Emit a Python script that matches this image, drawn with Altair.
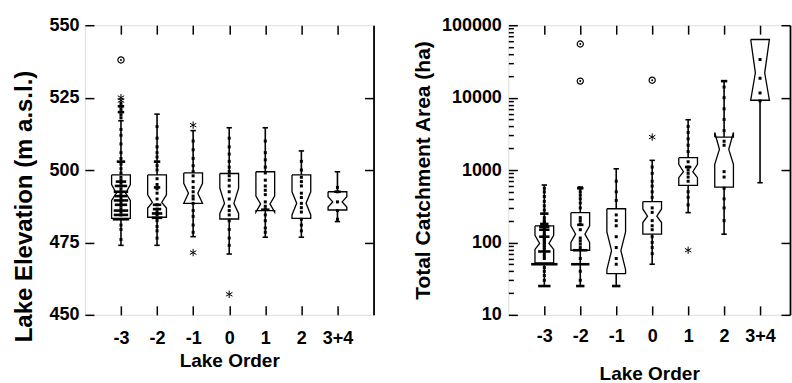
import json
import altair as alt
import pandas as pd

# ---------------- data ----------------
orders = ["-3", "-2", "-1", "0", "1", "2", "3+4"]

# Left panel: Lake elevation (m a.s.l.)
elev_q1 = [483.3, 483.7, 488.5, 483.1, 486.0, 483.3, 486.2]
elev_med = [492.0, 488.8, 492.0, 488.5, 488.3, 488.5, 489.0]
elev_q3 = [498.3, 498.3, 499.0, 498.8, 499.4, 498.3, 492.5]
elev_nlo = [489.5, 486.9, 488.5, 485.0, 485.5, 484.5, 487.2]
elev_nhi = [495.0, 491.4, 495.4, 493.7, 491.0, 492.5, 490.8]
elev_wlo = [474.0, 474.0, 477.0, 471.0, 476.8, 476.8, 482.2]
elev_whi = [517.0, 519.3, 513.6, 514.6, 514.6, 506.6, 499.4]
elev_points = {
    "-3": [476, 479.5, 481, 484.5, 485.5, 486.5, 487.5, 488.5, 489.5, 490.5, 491.5,
           492.5, 493.5, 494.5, 495.5, 496.5, 497.5, 499, 500.5, 502, 504, 506, 509,
           512, 514, 518, 519, 520, 521, 522, 523],
    "-2": [476.5, 479, 480.5, 482.5, 484.5, 485.5, 486.5, 488, 490, 492, 493.5, 495,
           497, 500, 501.5, 504.5, 506, 508, 511, 515],
    "-1": [478.5, 481, 484, 486, 488.5, 490, 491, 492.5, 494, 496, 498, 499.5, 501.5,
           504, 507, 510],
    "0": [474, 476.5, 479.5, 482.5, 484.5, 486, 487.5, 490, 492.5, 494.5, 496.5, 498,
          499.5, 501, 503, 505.5, 508, 511],
    "1": [478.5, 480, 482.5, 484.5, 486.5, 487.5, 489, 491.5, 493, 494.5, 496.5, 499,
          501, 503.5, 506, 510],
    "2": [479, 481, 483, 485.5, 487, 488.5, 490.5, 492, 494.5, 496, 497.5, 500, 503],
    "3+4": [483, 486, 489, 492.5, 494],
}
# values shared by several lakes (order, value, number of lakes)
elev_ties = [("-3", 483.0, 7), ("-3", 484.5, 6), ("-3", 486.0, 6), ("-3", 488.0, 5),
             ("-3", 489.5, 6), ("-3", 491.0, 5), ("-3", 492.5, 6), ("-3", 494.5, 5),
             ("-3", 496.0, 4), ("-3", 502.9, 3), ("-3", 520.0, 2), ("-3", 522.0, 2),
             ("-2", 502.9, 2), ("-2", 483.5, 4), ("-2", 485.0, 4), ("-2", 486.5, 3),
             ("-2", 488.0, 3), ("-2", 494.0, 2), ("1", 486.3, 3), ("3+4", 492.5, 2)]
elev_stars = [("-3", 524.0), ("-3", 525.0), ("-1", 515.5), ("-1", 471.5), ("0", 457.1)]
elev_circles = [("-3", 538.0)]

# Right panel: Total catchment area (ha)
area_q1 = [52, 78, 37, 130, 615, 580, 9200]
area_med = [97, 130, 77, 230, 950, 1930, 22000]
area_q3 = [169, 258, 292, 365, 1480, 2850, 63500]
area_nlo = [80, 100, 42, 188, 783, 1200, 9200]
area_nhi = [125, 170, 140, 290, 1200, 3300, 63500]
area_wlo = [25, 25, 25, 50, 258, 130, 668]
area_whi = [621, 583, 1040, 1360, 4950, 16900, 63500]
area_points = {
    "-3": [30, 35, 40, 45, 60, 65, 70, 80, 85, 90, 95, 100, 105, 110, 115, 120, 125,
           130, 140, 160, 170, 180, 190, 200, 220, 280, 320, 370, 430, 500, 560],
    "-2": [30, 40, 60, 85, 95, 105, 115, 150, 180, 200, 220, 300, 350, 400, 450, 500, 560],
    "-1": [50, 60, 85, 120, 170, 200, 240, 380, 500, 700],
    "0": [70, 85, 100, 120, 150, 170, 200, 260, 300, 420, 500, 600, 700, 900, 1100],
    "1": [330, 420, 500, 700, 800, 900, 1000, 1100, 1300, 1800, 2200, 2700, 3300, 4000],
    "2": [200, 300, 400, 560, 800, 950, 2200, 2500, 3500, 5000, 7000, 10000, 14000],
    "3+4": [9000, 11600, 18500, 33600],
}
area_ties = [("-3", 50, 12), ("-3", 25, 5), ("-3", 75, 5), ("-3", 120, 4), ("-3", 150, 4),
             ("-3", 165, 4), ("-3", 180, 3), ("-3", 250, 3),
             ("-2", 50, 8), ("-2", 25, 3), ("-2", 78, 6), ("-2", 175, 2), ("-2", 560, 2),
             ("-1", 25, 3), ("1", 1100, 2), ("2", 16900, 2)]
area_stars = [("0", 2850), ("1", 78)]
area_circles = [("-2", 55000), ("-2", 16900), ("0", 17400)]

FONT = "Liberation Sans"
PX_PER_UNIT = 36.0


def pos(g):
    return orders.index(g) + 1


def frames(q1, med, q3, nlo, nhi, wlo, whi, points, ties, stars, circles):
    hw, wa = 0.26, 0.13
    box, whisk, caps = [], [], []
    for i, g in enumerate(orders):
        p = i + 1
        a, m, b, lo, hi = q1[i], med[i], q3[i], nlo[i], nhi[i]
        verts = [(p - hw, b), (p + hw, b), (p + hw, hi), (p + wa, m), (p + hw, lo),
                 (p + hw, a), (p - hw, a), (p - hw, lo), (p - wa, m), (p - hw, hi),
                 (p - hw, b)]
        for k, (x, y) in enumerate(verts):
            box.append(dict(g=g, k=k, x=x, y=y))
        if wlo[i] < a:
            whisk.append(dict(x=p, y=wlo[i], y2=a))
            caps.append(dict(x=p - 0.075, x2=p + 0.075, y=wlo[i]))
        if whi[i] > b:
            whisk.append(dict(x=p, y=b, y2=whi[i]))
            caps.append(dict(x=p - 0.075, x2=p + 0.075, y=whi[i]))
    pts = [dict(x=pos(g), y=v) for g, vals in points.items() for v in vals]
    tie = [dict(x=pos(g) - (1.2 + 1.0 * n) / PX_PER_UNIT,
                x2=pos(g) + (1.2 + 1.0 * n) / PX_PER_UNIT, y=v) for g, v, n in ties]
    st = [dict(x=pos(g), y=v) for g, v in stars]
    ci = [dict(x=pos(g), y=v) for g, v in circles]
    return (pd.DataFrame(box), pd.DataFrame(whisk), pd.DataFrame(caps), pd.DataFrame(pts),
            pd.DataFrame(tie), pd.DataFrame(st), pd.DataFrame(ci))


label_expr = "%s[datum.value]" % json.dumps([""] + orders)
STAR = "M0,-1L0,1M-0.87,-0.5L0.87,0.5M-0.87,0.5L0.87,-0.5"


def panel(data, xdom, yscale, width, height, ytitle, ymajor, yright,
          yminor, ylab_pad, ytitle_pad, ytitle_size, ytitle_y, xlab_pad, xtitle_pad, yfmt):
    box, whisk, caps, pts, tie, st, ci = data
    xs = alt.Scale(domain=xdom, nice=False, zero=False)
    common = dict(tickColor="black", tickWidth=1.5, grid=False,
                  labelFont=FONT, labelFontWeight="bold", labelFontSize=18,
                  labelColor="black", titleFont=FONT, titleFontWeight="bold",
                  titleColor="black")
    xb = alt.Axis(orient="bottom", values=list(range(1, 8)), labelExpr=label_expr,
                  tickSize=9, offset=-9, labelPadding=xlab_pad, title="Lake Order",
                  titleFontSize=19, titlePadding=xtitle_pad, labelFlush=False,
                  domain=False, **common)
    yl_kw = dict(orient="left", values=ymajor, tickSize=9, offset=-9,
                 labelPadding=ylab_pad, title=ytitle, titleFontSize=ytitle_size,
                 titlePadding=ytitle_pad, labelFlush=False, labelOverlap=False,
                 domain=False, **common)
    if ytitle_y is not None:
        yl_kw["titleY"] = ytitle_y
    if yfmt:
        yl_kw["format"] = yfmt
    yl = alt.Axis(**yl_kw)
    xt = alt.Axis(orient="top", values=list(range(1, 8)), tickSize=9, offset=-9,
                  labels=False, title=None, domain=False, **common)
    yr = alt.Axis(orient="right", values=yright, tickSize=9, offset=-9, labels=False,
                  title=None, domain=False, **common)
    # plain right-hand frame line
    yframe = alt.Axis(orient="right", ticks=False, labels=False, title=None, offset=0,
                      domain=True, domainColor="black", domainWidth=1.8, **common)

    enc_none = lambda: dict(x=alt.X("x:Q", scale=xs, axis=None),
                            y=alt.Y("y:Q", scale=yscale, axis=None))
    layers = []
    layers.append(alt.Chart(box).mark_line(color="black", strokeWidth=1.3).encode(
        x=alt.X("x:Q", scale=xs, axis=xb),
        y=alt.Y("y:Q", scale=yscale, axis=yl),
        detail="g:N", order="k:Q"))
    layers.append(alt.Chart(whisk).mark_rule(color="black", strokeWidth=1.6).encode(
        y2="y2:Q", **enc_none()))
    layers.append(alt.Chart(caps).mark_rule(color="black", strokeWidth=1.6).encode(
        x2="x2:Q", **enc_none()))
    layers.append(alt.Chart(pts).mark_square(color="black", size=9, opacity=1).encode(
        **enc_none()))
    layers.append(alt.Chart(tie).mark_rule(color="black", strokeWidth=2.6).encode(
        x2="x2:Q", **enc_none()))
    layers.append(alt.Chart(st).mark_point(shape=STAR, size=55, color="black",
                                           strokeWidth=1.0, filled=False, opacity=1).encode(
        **enc_none()))
    layers.append(alt.Chart(ci).mark_point(shape="circle", size=38, color="black",
                                           strokeWidth=1.2, filled=False, opacity=1).encode(
        **enc_none()))
    layers.append(alt.Chart(ci).mark_point(shape="circle", size=4, color="black",
                                           filled=True, opacity=1).encode(**enc_none()))
    layers.append(alt.Chart(box).mark_point(opacity=0).encode(
        x=alt.X("x:Q", scale=xs, axis=xt),
        y=alt.Y("y:Q", scale=yscale, axis=yr)))
    layers.append(alt.Chart(box).mark_point(opacity=0).encode(
        x=alt.X("x:Q", scale=xs, axis=None),
        y=alt.Y("y:Q", scale=yscale, axis=yframe)))
    if yminor:
        ym = alt.Axis(orient="left", values=yminor, tickSize=5, offset=-5, labels=False,
                      title=None, domain=False, **common)
        layers.append(alt.Chart(box).mark_point(opacity=0).encode(
            x=alt.X("x:Q", scale=xs, axis=None),
            y=alt.Y("y:Q", scale=yscale, axis=ym)))
    return alt.layer(*layers).resolve_axis(x="independent", y="independent").properties(
        width=width, height=height)


left_data = frames(elev_q1, elev_med, elev_q3, elev_nlo, elev_nhi, elev_wlo, elev_whi,
                   elev_points, elev_ties, elev_stars, elev_circles)
right_data = frames(area_q1, area_med, area_q3, area_nlo, area_nhi, area_wlo, area_whi,
                    area_points, area_ties, area_stars, area_circles)

elev_ticks = [450, 475, 500, 525, 550]
area_ticks = [10, 100, 1000, 10000, 100000]
area_minor = [m * 10 ** d for d in range(1, 5) for m in range(2, 10)]

left = panel(left_data, [0, 8], alt.Scale(domain=[450, 550], nice=False, zero=False),
             289, 290, "Lake Elevation (m a.s.l.)", elev_ticks, [475, 500, 525],
             None, 6, 12, 24, 181, 15, 4, None)
right = panel(right_data, [0, 282 / PX_PER_UNIT],
              alt.Scale(type="log", domain=[10, 100000], nice=False),
              282, 290, "Total Catchment Area (ha)", area_ticks, area_ticks,
              area_minor, 7, 8, 21, None, 13, 19, "d")

chart = alt.hconcat(left, right, spacing=36).properties(
    padding={"left": 12, "top": 15, "right": 0, "bottom": 0}
).configure_view(stroke="black", strokeWidth=1.8).configure(background="white")

chart.save("out.html", embed_options={"renderer": "svg", "actions": False})
